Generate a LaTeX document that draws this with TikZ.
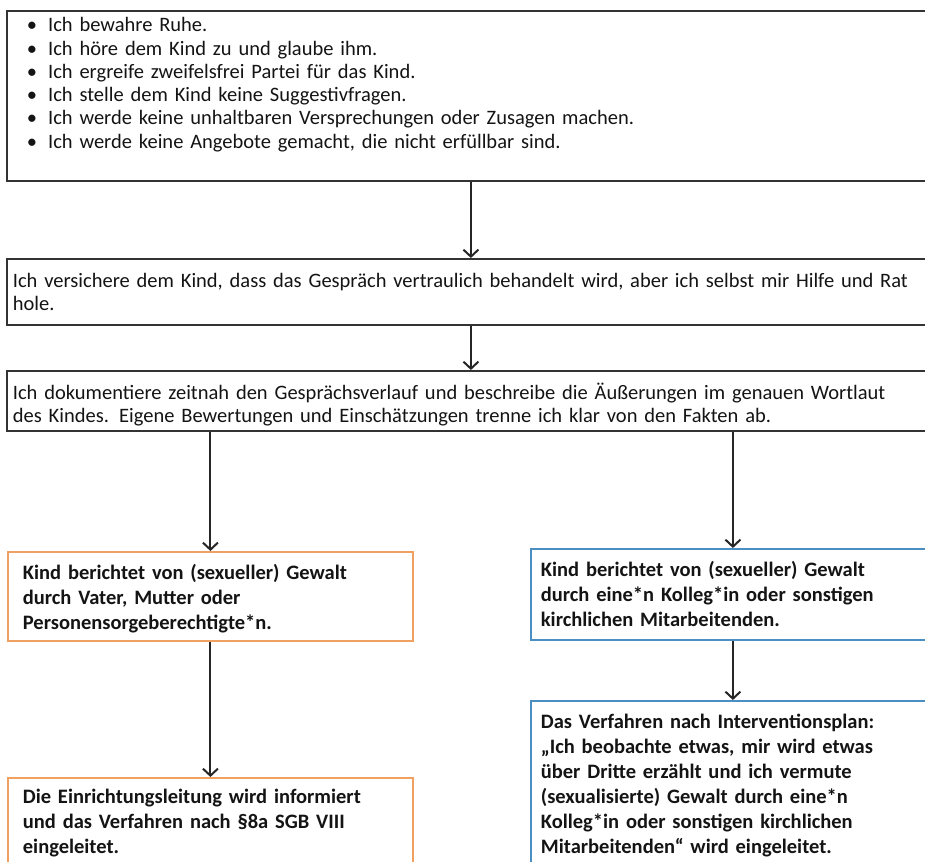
\documentclass[tikz,border=0pt]{standalone}
\usepackage{fontspec}
\setmainfont{Carlito}
\usetikzlibrary{arrows.meta,positioning}
\definecolor{inktext}{HTML}{141414}
\definecolor{frameorange}{HTML}{F0A060}
\definecolor{frameblue}{HTML}{4A8EC2}
\begin{document}
\begin{tikzpicture}[x=1pt, y=-1pt,
    every node/.style = {font=\fontsize{20.5}{23.3}\selectfont, text=inktext},
    plainbox/.style = {draw=black!80, line width=1.8pt, anchor=north west, align=left, minimum width=928pt, inner ysep=0pt},
    parentbox/.style = {draw=frameorange, line width=1.8pt, anchor=north west, align=left, minimum width=405pt, inner xsep=15pt, inner ysep=0pt, text width=375pt, font=\fontsize{20.5}{25}\selectfont\bfseries},
    staffbox/.style = {draw=frameblue, line width=1.8pt, anchor=north west, align=left, minimum width=404pt, inner xsep=10pt, inner ysep=0pt, text width=384pt, font=\fontsize{20.5}{25}\selectfont\bfseries},
    flow/.style = {draw=black!85, line width=2pt, -{Straight Barb[length=7pt,width=15pt,line width=2pt]}}]
  \clip (0,0) rectangle (925,861);
  \useasboundingbox (0,0) rectangle (925,861);
  \fill[white] (0,0) rectangle (925,861);
  % Grundhaltung
  \node[plainbox, minimum height=170pt, inner xsep=20pt, text width=888pt] (rules) at (6,10)
    {\textbullet\hspace{11pt}Ich bewahre Ruhe.\\
     \textbullet\hspace{11pt}Ich höre dem Kind zu und glaube ihm.\\
     \textbullet\hspace{11pt}Ich ergreife zweifelsfrei Partei für das Kind.\\
     \textbullet\hspace{11pt}Ich stelle dem Kind keine Suggestivfragen.\\
     \textbullet\hspace{11pt}Ich werde keine unhaltbaren Versprechungen oder Zusagen machen.\\
     \textbullet\hspace{11pt}Ich werde keine Angebote gemacht, die nicht erfüllbar sind.\rule[-26pt]{0pt}{0pt}};
  \node[plainbox, minimum height=66pt, inner xsep=6pt, text width=916pt] (promise) at (6,258)
    {Ich versichere dem Kind, dass das Gespräch vertraulich behandelt wird, aber ich selbst mir Hilfe und Rat\\hole.};
  \node[plainbox, minimum height=60pt, inner xsep=6pt, text width=916pt] (doc) at (6,370)
    {\rule{0pt}{24pt}Ich dokumentiere zeitnah den Gesprächsverlauf und beschreibe die Äußerungen im genauen Wortlaut\\des Kindes. Eigene Bewertungen und Einschätzungen trenne ich klar von den Fakten ab.};
  % zwei Wege
  \node[parentbox, minimum height=89pt] (parent) at (7,551)
    {\rule{0pt}{20pt}Kind berichtet von (sexueller) Gewalt\\durch Vater, Mutter oder\\Personensorgeberechtigte*n.};
  \node[staffbox, minimum height=91pt] (staff) at (530,548)
    {Kind berichtet von (sexueller) Gewalt\\durch eine*n Kolleg*in oder sonstigen\\kirchlichen Mitarbeitenden.};
  \node[parentbox, minimum height=90pt] (leader) at (7,777)
    {Die Einrichtungsleitung wird informiert\\und das Verfahren nach §8a SGB VIII\\eingeleitet.};
  \node[staffbox, minimum height=170pt] (plan) at (530,700)
    {Das Verfahren nach Interventionsplan:\\„Ich beobachte etwas, mir wird etwas\\über Dritte erzählt und ich vermute\\(sexualisierte) Gewalt durch eine*n\\Kolleg*in oder sonstigen kirchlichen\\Mitarbeitenden“ wird eingeleitet.};
  \draw[flow] (rules) -- (promise);
  \draw[flow] (promise) -- (doc);
  \draw[flow] (doc.south -| parent.north) -- (parent.north);
  \draw[flow] (doc.south -| staff.north) -- (staff.north);
  \draw[flow] (parent) -- (leader);
  \draw[flow] (staff) -- (plan);
\end{tikzpicture}
\end{document}
